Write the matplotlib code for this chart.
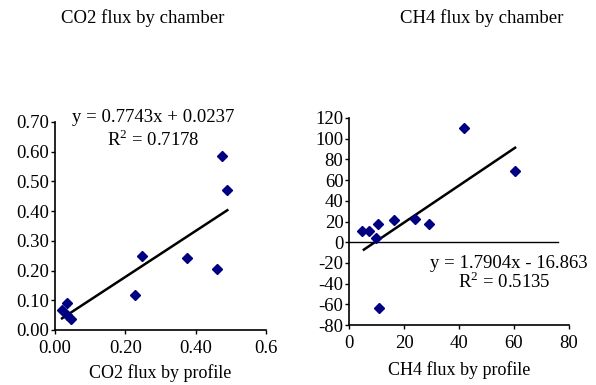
import matplotlib
matplotlib.use("Agg")
import matplotlib.pyplot as plt
import numpy as np

plt.rcParams['font.family'] = ['Liberation Serif', 'DejaVu Serif']
plt.rcParams['axes.unicode_minus'] = False

# CO2 flux: profile vs chamber
co2_profile = [0.476, 0.490, 0.248, 0.375, 0.462, 0.228, 0.020, 0.034, 0.034, 0.045]
co2_chamber = [0.585, 0.471, 0.249, 0.242, 0.205, 0.119, 0.066, 0.090, 0.050, 0.038]
co2_fit = (0.7743, 0.0237)

# CH4 flux: profile vs chamber
ch4_profile = [4.8, 7.4, 9.8, 10.7, 16.5, 24.0, 29.2, 41.7, 60.4, 10.9]
ch4_chamber = [10.7, 10.4, 3.9, 17.9, 21.5, 22.4, 17.9, 110.7, 69.0, -64.0]
ch4_fit = (1.7904, -16.863)

co2_xticks = [0, 0.2, 0.4, 0.6]
co2_xlabels = ['0.00', '0.20', '0.40', '0.6']
co2_yticks = [0, 0.1, 0.2, 0.3, 0.4, 0.5, 0.6, 0.7]
ch4_xticks = [0, 20, 40, 60, 80]
ch4_yticks = list(range(-80, 121, 20))

navy = '#000080'
fs = 13.5

fig = plt.figure(figsize=(5.96, 3.85), dpi=100)
ax1 = fig.add_axes([55 / 596, 1 - 330 / 385, 211 / 596, 208 / 385])
ax2 = fig.add_axes([349 / 596, 1 - 325 / 385, 220 / 596, 207 / 385])

for ax in (ax1, ax2):
    ax.spines['top'].set_visible(False)
    ax.spines['right'].set_visible(False)
    ax.spines['left'].set_linewidth(1.2)
    ax.spines['bottom'].set_linewidth(1.2)
    ax.tick_params(direction='out', length=3, width=1, labelsize=fs, pad=4)
    ax.tick_params(axis='y', pad=1)

# left chart
ax1.plot(co2_profile, co2_chamber, 'D', color=navy, markersize=4.8, zorder=3)
xs = np.array([min(co2_profile), max(co2_profile)])
ax1.plot(xs, co2_fit[0] * xs + co2_fit[1], color='black', lw=1.8, zorder=2)
ax1.set_xlim(0, 0.6)
ax1.set_ylim(0, 0.7)
ax1.set_xticks(co2_xticks)
ax1.set_xticklabels(co2_xlabels)
ax1.set_yticks(co2_yticks)
ax1.set_yticklabels(['%.2f' % v for v in co2_yticks])
ax1.set_xlabel('CO2 flux by profile', fontsize=13, labelpad=5)
ax1.text(0.28, 0.715, 'y = 0.7743x + 0.0237', fontsize=fs, ha='center', va='center')
ax1.text(0.28, 0.64, 'R$^{\\mathregular{2}}$ = 0.7178', fontsize=fs, ha='center', va='center')

# right chart
ax2.plot(ch4_profile, ch4_chamber, 'D', color=navy, markersize=4.8, zorder=3)
xs = np.array([5.4, max(ch4_profile)])
ax2.plot(xs, ch4_fit[0] * xs + ch4_fit[1], color='black', lw=1.8, zorder=2)
ax2.plot([0, 76], [0, 0], color='black', lw=1)
ax2.set_xlim(0, 80)
ax2.set_ylim(-80, 120)
ax2.set_xticks(ch4_xticks)
ax2.set_yticks(ch4_yticks)
ax2.set_xlabel('CH4 flux by profile', fontsize=13, labelpad=7)
ax2.text(58, -21, 'y = 1.7904x - 16.863', fontsize=fs, ha='center', va='center')
ax2.text(56.5, -38, 'R$^{\\mathregular{2}}$ = 0.5135', fontsize=fs, ha='center', va='center')

fig.text(143 / 596, 1 - 18 / 385, 'CO2 flux by chamber', fontsize=fs, ha='center', va='center')
fig.text(482 / 596, 1 - 18 / 385, 'CH4 flux by chamber', fontsize=fs, ha='center', va='center')

fig.savefig('out.png', dpi=100)
